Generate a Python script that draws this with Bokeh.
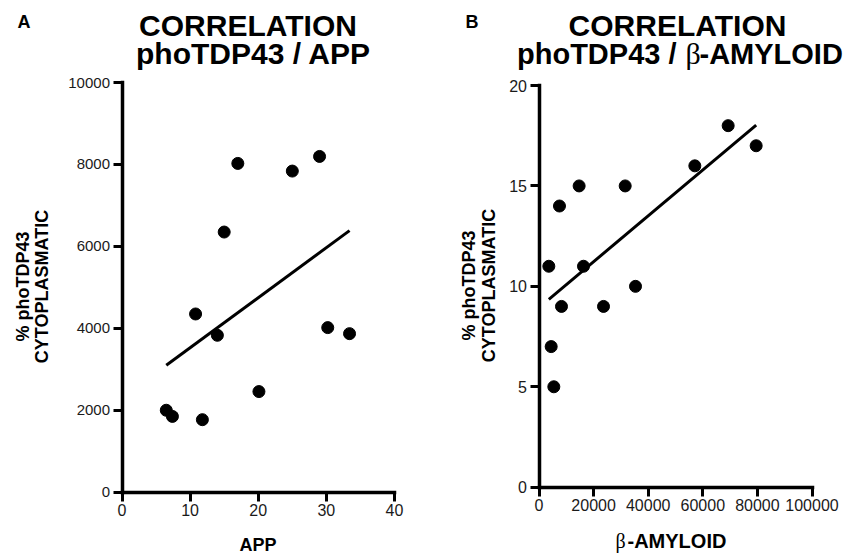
import numpy as np
from bokeh.plotting import figure
from bokeh.layouts import row
from bokeh.models import Range1d, FixedTicker, Label, LinearAxis, BasicTickFormatter
from bokeh.embed import file_html
from bokeh.resources import INLINE

# ---- Data: panel A (APP vs % phoTDP43 cytoplasmatic) ----
app_x = [6.5, 7.4, 11.8, 10.8, 14.0, 15.0, 17.0, 20.1, 25.0, 29.0, 30.2, 33.4]
app_y = [2000, 1850, 1770, 4350, 3830, 6350, 8025, 2456, 7838, 8195, 4017, 3870]

# ---- Data: panel B (beta-amyloid vs % phoTDP43 cytoplasmatic) ----
amy_x = [3600, 4460, 5430, 7500, 8240, 14700, 16300, 23630, 31570, 35350, 57080, 69290, 79550]
amy_y = [11, 7, 5, 14, 9, 15, 11, 9, 15, 10, 16, 18, 17]

app_xticks = [0, 10, 20, 30, 40]
app_yticks = [0, 2000, 4000, 6000, 8000, 10000]
amy_xticks = [0, 20000, 40000, 60000, 80000, 100000]
amy_yticks = [0, 5, 10, 15, 20]

FONT = "Liberation Sans"
SERIF = "Liberation Serif"


def make_fig(W, H, box, xlim, ylim, xt, yt, xfs, yfs, sci=True):
    # box: pixel positions (canvas-local) of data x0, x1 and y0 (bottom), y1 (top)
    px0, px1, py0, py1 = box
    (x0, x1), (y0, y1) = xlim, ylim
    kx = (px1 - px0) / (x1 - x0)
    ky = (py0 - py1) / (y1 - y0)
    xr = Range1d(x0 - px0 / kx, x0 + (W - px0) / kx)
    yr = Range1d(y0 - (H - py0) / ky, y0 + py0 / ky)
    p = figure(width=W, height=H, output_backend="svg", toolbar_location=None,
               x_range=xr, y_range=yr, x_axis_location=None, y_axis_location=None,
               min_border=0, min_border_left=0, min_border_right=0,
               min_border_top=0, min_border_bottom=0)
    p.outline_line_color = None
    p.background_fill_color = "white"
    p.border_fill_color = "white"
    xax = LinearAxis(ticker=FixedTicker(ticks=xt), fixed_location=y0, bounds=(x0, x1))
    yax = LinearAxis(ticker=FixedTicker(ticks=yt), fixed_location=x0, bounds=(y0, y1))
    if not sci:
        xax.formatter = BasicTickFormatter(use_scientific=False)
    for ax, fs in ((xax, xfs), (yax, yfs)):
        ax.axis_line_width = 3.5
        ax.axis_line_color = "black"
        ax.axis_line_cap = "square"
        ax.major_tick_line_width = 3
        ax.major_tick_line_color = "black"
        ax.major_tick_out = 9
        ax.major_tick_in = 0
        ax.minor_tick_line_color = None
        ax.major_label_text_font = FONT
        ax.major_label_text_font_size = fs
        ax.major_label_text_color = "#1a1a1a"
        ax.major_label_standoff = 3
    p.add_layout(xax, "below")
    p.add_layout(yax, "left")
    p.xgrid.visible = False
    p.ygrid.visible = False
    return p


def add_text(p, H, fx, px, py, text, size, bold=True, font=FONT, align="left", angle=0.0):
    # page coordinates (py = vertical centre of the text) -> frame screen coordinates
    sx = px - fx
    sy = H - py
    p.add_layout(Label(x=sx, y=sy, x_units="screen", y_units="screen", text=text,
                       text_font=font, text_font_size=size,
                       text_font_style="bold" if bold else "normal",
                       text_color="black", text_align=align, text_baseline="middle",
                       angle=angle))


H = 554
# ---------------- Panel A ----------------
WA = 430
pa = make_fig(WA, H, (121.5, 394, 491.7, 82), (0, 40), (0, 10000),
              app_xticks, app_yticks, "16px", "15px")
pa.scatter(app_x, app_y, size=12, color="black")
ka, ba_ = np.polyfit(app_x, app_y, 1)
xa = [min(app_x), max(app_x)]
pa.line(xa, [ka * v + ba_ for v in xa], line_width=3, color="black")
ta = lambda *a, **k: add_text(pa, H, 0, *a, **k)
ta(17, 21.5, "A", "18px")
ta(247.5, 25, "CORRELATION", "30px", align="center")
ta(253, 53, "phoTDP43 / APP", "30px", align="center")
ta(22.5, 286, "% phoTDP43", "18px", align="center", angle=np.pi / 2)
ta(41.5, 286, "CYTOPLASMATIC", "18px", align="center", angle=np.pi / 2)
ta(257.5, 544, "APP", "18px", align="center")

# ---------------- Panel B ----------------
WB = 414
pb = make_fig(WB, H, (108.5, 381.5, 486.7, 85), (0, 100000), (0, 20),
              amy_xticks, amy_yticks, "16px", "16px", sci=False)
pb.scatter(amy_x, amy_y, size=12, color="black")
kb, bb_ = np.polyfit(amy_x, amy_y, 1)
xb = [min(amy_x), max(amy_x)]
pb.line(xb, [kb * v + bb_ for v in xb], line_width=3, color="black")
tb = lambda *a, **k: add_text(pb, H, WA, *a, **k)
tb(465, 21.5, "B", "18px")
tb(677, 25, "CORRELATION", "30px", align="center")
tb(676, 53, "phoTDP43 /", "29px", align="right")
tb(685, 53, "β", "30px", bold=False, font=SERIF)
tb(699, 53, "-AMYLOID", "29px")
tb(468, 285, "% phoTDP43", "18px", align="center", angle=np.pi / 2)
tb(488, 285, "CYTOPLASMATIC", "18px", align="center", angle=np.pi / 2)
tb(615, 540, "β", "20px", bold=False, font=SERIF)
tb(627, 540, "-AMYLOID", "20px")

layout = row(pa, pb)
open("out.html", "w").write(file_html(layout, INLINE))
